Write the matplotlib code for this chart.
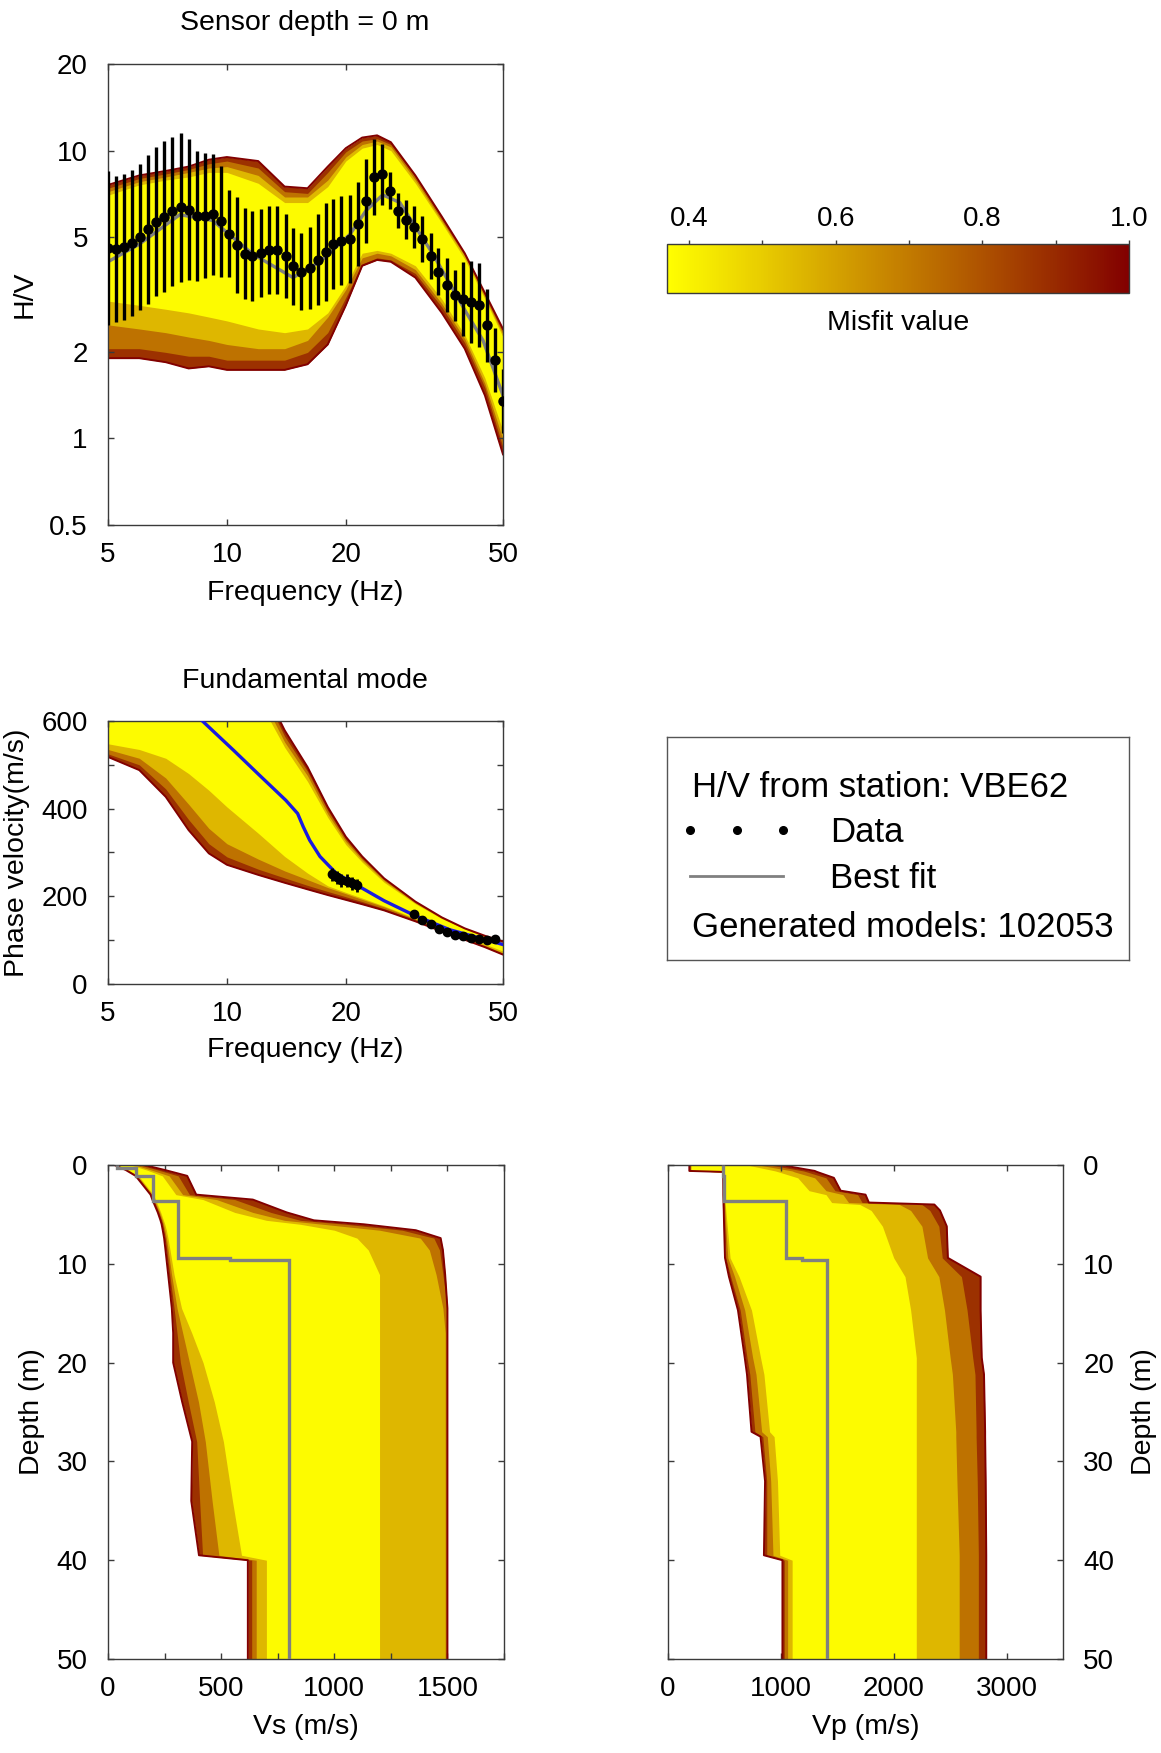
import numpy as np
import matplotlib
matplotlib.use("Agg")
import matplotlib.pyplot as plt
from matplotlib.colors import LinearSegmentedColormap, Normalize
from matplotlib.ticker import FixedLocator, NullLocator, FormatStrFormatter, MultipleLocator
import matplotlib.cm as cm

plt.rcParams["font.family"] = ["Liberation Sans", "DejaVu Sans"]

W, H = 1161, 1753

# ---------------- H/V curve ----------------
hv_freq = [5.00, 5.24, 5.49, 5.76, 6.03, 6.32, 6.63, 6.95, 7.28, 7.63,
           8.00, 8.38, 8.79, 9.21, 9.65, 10.1, 10.6, 11.1, 11.6, 12.2,
           12.8, 13.4, 14.1, 14.7, 15.4, 16.2, 17.0, 17.8, 18.6, 19.5,
           20.5, 21.5, 22.5, 23.6, 24.7, 25.9, 27.1, 28.4, 29.8, 31.2,
           32.8, 34.3, 36.0, 37.7, 39.5, 41.4, 43.4, 45.5, 47.7, 50.0]
hv_mean = [4.59, 4.55, 4.63, 4.78, 5.00, 5.32, 5.67, 5.90, 6.15, 6.35,
           6.23, 5.94, 5.94, 6.00, 5.68, 5.15, 4.69, 4.38, 4.31, 4.40,
           4.52, 4.52, 4.31, 3.96, 3.80, 3.92, 4.17, 4.45, 4.73, 4.86,
           4.93, 5.54, 6.70, 8.10, 8.27, 7.25, 6.19, 5.76, 5.42, 4.93,
           4.31, 3.80, 3.42, 3.14, 3.05, 2.98, 2.90, 2.47, 1.87, 1.35]
hv_factor = [1.85, 1.80, 1.79, 1.79, 1.79, 1.81, 1.82, 1.83, 1.81, 1.81,
             1.76, 1.68, 1.65, 1.62, 1.56, 1.42, 1.47, 1.44, 1.43, 1.42,
             1.42, 1.42, 1.40, 1.36, 1.36, 1.39, 1.44, 1.48, 1.43, 1.43,
             1.42, 1.40, 1.40, 1.36, 1.28, 1.16, 1.15, 1.17, 1.18, 1.20,
             1.20, 1.21, 1.24, 1.23, 1.34, 1.39, 1.40, 1.34, 1.29, 1.29]
hv_best_freq = [5.0, 6.0, 7.6, 9.2, 11.6, 14.7, 17.2, 20.5, 22.5, 24.8, 27.4, 33.2, 40.4, 44.5, 50.0]
hv_best = [4.11, 4.73, 5.99, 5.72, 4.38, 3.62, 4.11, 5.12, 6.19, 7.02, 6.60, 4.38, 2.73, 2.19, 1.41]

# ensemble envelopes, from worst to best misfit
hv_env_freq = [5, 6, 7, 8, 9, 10, 12, 14, 16, 18, 20, 22, 24, 26, 30, 35, 40, 45, 50]
hv_up_100 = [7.6, 8.2, 8.5, 8.8, 9.3, 9.5, 9.2, 7.5, 7.4, 8.8, 10.2, 11.1, 11.3, 10.7, 8.2, 5.9, 4.4, 3.2, 2.4]
hv_lo_100 = [1.90, 1.90, 1.84, 1.75, 1.78, 1.73, 1.73, 1.73, 1.81, 2.12, 2.90, 3.98, 4.17, 4.11, 3.62, 2.73, 2.05, 1.41, 0.88]
hv_up_080 = [7.4, 8.0, 8.3, 8.6, 9.0, 9.2, 8.7, 7.2, 7.1, 8.4, 9.9, 10.8, 11.0, 10.5, 8.1, 5.8, 4.35, 3.15, 2.35]
hv_lo_080 = [2.05, 2.05, 1.99, 1.93, 1.93, 1.87, 1.87, 1.87, 1.99, 2.33, 3.09, 4.04, 4.24, 4.17, 3.74, 2.86, 2.15, 1.50, 0.93]
hv_up_060 = [7.2, 7.8, 8.1, 8.4, 8.7, 8.8, 8.2, 6.9, 6.9, 7.9, 9.5, 10.5, 10.8, 10.3, 7.9, 5.7, 4.3, 3.1, 2.3]
hv_lo_060 = [2.48, 2.40, 2.33, 2.25, 2.19, 2.12, 2.05, 2.05, 2.19, 2.64, 3.29, 4.24, 4.40, 4.31, 3.86, 2.94, 2.22, 1.55, 0.99]
hv_up_042 = [7.0, 7.6, 7.9, 8.1, 8.4, 8.4, 7.7, 6.6, 6.6, 7.5, 9.2, 10.2, 10.5, 10.0, 7.7, 5.6, 4.2, 3.05, 2.25]
hv_lo_042 = [3.00, 2.90, 2.81, 2.73, 2.64, 2.56, 2.40, 2.33, 2.40, 2.73, 3.40, 4.40, 4.50, 4.40, 3.98, 3.05, 2.29, 1.62, 1.06]

# ---------------- dispersion ----------------
disp_freq = [18.5, 19.0, 19.5, 20.1, 20.7, 21.4, 29.8, 31.2, 32.8, 34.4, 36.1, 37.7, 39.6, 41.5, 43.5, 45.6, 47.8]
disp_vel = [250, 243, 237, 236, 230, 225, 160, 146, 137, 126, 118, 112, 110, 106, 103, 101, 102]
disp_err = [15, 15, 15, 15, 15, 15, 7, 7, 7, 6, 6, 6, 5, 5, 5, 5, 5]
disp_best_freq = [8.67, 10.4, 12.1, 14.1, 15.1, 15.6, 16.2, 17.2, 18.2, 18.9, 20.9, 25.0, 29.6, 36.6, 50.0]
disp_best = [600, 533, 476, 419, 389, 359, 328, 291, 268, 253, 230, 190, 158, 124, 90]

disp_env_freq = [5, 6, 7, 8, 9, 10, 12, 14, 16, 18, 20, 22, 25, 30, 35, 40, 45, 50]
disp_lo_100 = [518, 488, 427, 351, 298, 272, 249, 231, 216, 203, 192, 182, 168, 143, 120, 101, 84, 67]
disp_up_100 = [700, 700, 700, 700, 700, 700, 700, 579, 495, 404, 336, 291, 241, 188, 152, 127, 110, 97]
disp_lo_080 = [525, 500, 445, 375, 320, 290, 262, 242, 225, 211, 199, 188, 172, 146, 122, 103, 86, 69]
disp_up_080 = [700, 700, 700, 700, 700, 700, 690, 565, 485, 396, 330, 287, 239, 187, 151, 126, 109, 96]
disp_lo_060 = [535, 515, 470, 410, 355, 320, 285, 258, 238, 220, 206, 193, 176, 148, 124, 105, 88, 71]
disp_up_060 = [700, 700, 700, 700, 700, 700, 670, 552, 475, 388, 325, 283, 236, 185, 150, 126, 108, 95]
disp_lo_042 = [548, 535, 515, 480, 442, 404, 344, 291, 253, 224, 209, 196, 178, 150, 126, 107, 91, 75]
disp_up_042 = [700, 700, 700, 700, 700, 700, 650, 540, 462, 380, 318, 278, 232, 183, 149, 125, 107, 94]

# ---------------- best-fit layered model ----------------
layer_edges = [0, 0.3, 1.1, 3.6, 9.4, 9.6, 50]
vs_best = [40, 125, 199, 309, 538, 800]
vp_best = [486, 488, 495, 1049, 1191, 1413]

# Vs ensemble envelopes
vs_depth = [0, 0.5, 1.1, 3.0, 3.5, 4.8, 5.6, 6.0, 6.6, 7.4, 8.6, 11.1, 14.5, 17, 20, 24, 28, 34, 39.5, 40, 50]
vs_lt_100 = [28, 78, 122, 188, 196, 220, 232, 237, 242, 248, 254, 266, 282, 288, 288, 328, 372, 368, 402, 618, 618]
vs_rt_100 = [160, 250, 350, 390, 640, 790, 910, 1130, 1360, 1470, 1480, 1490, 1500, 1500, 1500, 1500, 1500, 1500, 1500, 1500, 1500]
vs_lt_080 = [31, 81, 126, 191, 200, 224, 236, 241, 246, 253, 260, 273, 292, 305, 320, 355, 392, 405, 418, 635, 635]
vs_rt_080 = [140, 220, 310, 360, 560, 720, 850, 1050, 1300, 1440, 1465, 1480, 1500, 1500, 1500, 1500, 1500, 1500, 1500, 1500, 1500]
vs_lt_060 = [34, 85, 130, 195, 204, 228, 240, 245, 251, 258, 266, 281, 305, 330, 360, 400, 430, 460, 490, 655, 655]
vs_rt_060 = [120, 190, 270, 330, 480, 640, 780, 950, 1200, 1380, 1420, 1450, 1480, 1490, 1490, 1490, 1490, 1490, 1490, 1490, 1490]
vs_lt_042 = [37, 90, 135, 200, 210, 233, 245, 251, 258, 265, 274, 292, 325, 370, 420, 470, 510, 550, 590, 700, 700]
vs_rt_042 = [100, 170, 240, 300, 420, 560, 700, 850, 1000, 1100, 1150, 1200, 1200, 1200, 1200, 1200, 1200, 1200, 1200, 1200, 1200]

# Vp ensemble envelopes
vp_depth = [0, 0.6, 0.7, 1.3, 2.6, 3.0, 3.8, 4.0, 4.6, 6.2, 9.4, 11.3, 14.7, 19.5, 21.2, 27, 27.5, 32, 39.5, 40, 50]
vp_lt_100 = [189, 189, 489, 489, 490, 490, 492, 492, 494, 497, 505, 540, 620, 680, 700, 740, 820, 860, 850, 1014, 1014]
vp_rt_100 = [1000, 1300, 1320, 1470, 1530, 1750, 1780, 2360, 2410, 2470, 2480, 2770, 2770, 2780, 2800, 2810, 2810, 2815, 2820, 2820, 2820]
vp_lt_080 = [195, 195, 492, 492, 493, 494, 496, 496, 498, 502, 512, 555, 640, 700, 725, 770, 840, 875, 875, 1030, 1030]
vp_rt_080 = [900, 1200, 1230, 1400, 1480, 1680, 1720, 2250, 2320, 2400, 2430, 2600, 2650, 2700, 2720, 2730, 2730, 2740, 2750, 2750, 2750]
vp_lt_060 = [200, 200, 495, 495, 497, 499, 501, 502, 505, 512, 530, 590, 680, 750, 780, 830, 880, 910, 930, 1060, 1060]
vp_rt_060 = [800, 1100, 1120, 1300, 1400, 1550, 1600, 2050, 2150, 2250, 2300, 2400, 2450, 2500, 2520, 2550, 2550, 2560, 2580, 2580, 2580]
vp_lt_042 = [205, 205, 498, 498, 500, 503, 506, 508, 512, 525, 550, 630, 740, 820, 850, 900, 940, 970, 990, 1100, 1100]
vp_rt_042 = [700, 950, 980, 1150, 1250, 1400, 1450, 1700, 1800, 1900, 2000, 2100, 2150, 2200, 2200, 2200, 2200, 2200, 2200, 2200, 2200]

# misfit shade of each envelope band (outer -> inner) and of the outer rim
band_misfit = [0.88, 0.72, 0.55, 0.38]
rim_misfit = 1.0

# colour scale
MIS_MIN, MIS_MAX = 0.37, 1.0
anchors = [(0.37, "#ffff00"), (0.5, "#e8cc00"), (0.6, "#d4a200"), (0.7, "#c27a00"),
           (0.8, "#ae5200"), (0.9, "#982a00"), (1.0, "#820000")]
cmap = LinearSegmentedColormap.from_list(
    "misfit", [((v - MIS_MIN) / (MIS_MAX - MIS_MIN), c) for v, c in anchors])
norm = Normalize(MIS_MIN, MIS_MAX)

SPINE = "#3a3a3a"


def px_axes(fig, left, top, right, bottom):
    return fig.add_axes([left / W, 1 - bottom / H, (right - left) / W, (bottom - top) / H])


def style(ax):
    for s in ax.spines.values():
        s.set_color(SPINE)
        s.set_linewidth(1.0)
    ax.tick_params(which="both", direction="in", top=True, right=True, color=SPINE,
                   labelcolor="black", labelsize=20, length=4, width=1)
    ax.tick_params(axis="y", pad=14.5)
    ax.tick_params(axis="x", pad=12.5)


def place_labels(ax, box, xlab_y, ylab_x):
    l, t, r, b = box
    ax.xaxis.set_label_coords(0.5, (b - xlab_y) / (b - t))
    ax.xaxis.label.set_va("center")
    ax.yaxis.set_label_coords((ylab_x - l) / (r - l), 0.5)
    ax.yaxis.label.set_va("center")
    ax.yaxis.label.set_ha("center")


def draw_bands(ax, grid, bands, vertical=True):
    for i, (m, (a, b)) in enumerate(zip(band_misfit, bands)):
        if vertical:
            ax.fill_between(grid, a, b, color=cmap(norm(m)), lw=0)
        else:
            ax.fill_betweenx(grid, a, b, color=cmap(norm(m)), lw=0)
        if i == 0:
            rim = cmap(norm(rim_misfit))
            if vertical:
                ax.plot(grid, a, color=rim, lw=1.4)
                ax.plot(grid, b, color=rim, lw=1.4)
            else:
                ax.plot(a, grid, color=rim, lw=1.4)
                ax.plot(b, grid, color=rim, lw=1.4)


fig = plt.figure(figsize=(W / 100, H / 100), dpi=100)

# ---- H/V panel ----
box1 = (108, 64, 503, 525)
ax1 = px_axes(fig, *box1)
ax1.set_xscale("log")
ax1.set_yscale("log")
draw_bands(ax1, hv_env_freq, [(hv_lo_100, hv_up_100), (hv_lo_080, hv_up_080),
                              (hv_lo_060, hv_up_060), (hv_lo_042, hv_up_042)])
ax1.plot(hv_best_freq, hv_best, color="#808080", lw=2.4, zorder=3)
mean = np.array(hv_mean)
fac = np.array(hv_factor)
ax1.errorbar(hv_freq, hv_mean, yerr=[mean - mean / fac, mean * fac - mean], fmt="o",
             color="black", ms=6.5, elinewidth=2.4, capsize=0, zorder=5)
ax1.set_xlim(5, 50)
ax1.set_ylim(0.5, 20)
ax1.xaxis.set_major_locator(FixedLocator([5, 10, 20, 50]))
ax1.xaxis.set_minor_locator(NullLocator())
ax1.yaxis.set_major_locator(FixedLocator([0.5, 1, 2, 5, 10, 20]))
ax1.yaxis.set_minor_locator(NullLocator())
ax1.xaxis.set_major_formatter(FormatStrFormatter("%g"))
ax1.yaxis.set_major_formatter(FormatStrFormatter("%g"))
style(ax1)
ax1.set_xlabel("Frequency (Hz)", fontsize=20.5)
ax1.set_ylabel("H/V", fontsize=20.5)
place_labels(ax1, box1, 593, 25)
fig.text(305 / W, 1 - 23 / H, "Sensor depth = 0 m", ha="center", va="center", fontsize=20.5)

# ---- dispersion panel ----
box2 = (108, 721, 503, 984)
ax2 = px_axes(fig, *box2)
ax2.set_xscale("log")
draw_bands(ax2, disp_env_freq, [(disp_lo_100, disp_up_100), (disp_lo_080, disp_up_080),
                                (disp_lo_060, disp_up_060), (disp_lo_042, disp_up_042)])
ax2.plot(disp_best_freq, disp_best, color="#1a1ae0", lw=2.4, zorder=3)
ax2.errorbar(disp_freq, disp_vel, yerr=disp_err, fmt="o", color="black", ms=6,
             elinewidth=2.0, capsize=0, zorder=5)
ax2.set_xlim(5, 50)
ax2.set_ylim(0, 600)
ax2.xaxis.set_major_locator(FixedLocator([5, 10, 20, 50]))
ax2.xaxis.set_minor_locator(NullLocator())
ax2.xaxis.set_major_formatter(FormatStrFormatter("%g"))
ax2.yaxis.set_major_locator(FixedLocator([0, 200, 400, 600]))
ax2.yaxis.set_minor_locator(FixedLocator([100, 300, 500]))
style(ax2)
ax2.set_xlabel("Frequency (Hz)", fontsize=20.5)
ax2.set_ylabel("Phase velocity(m/s)", fontsize=20.5)
place_labels(ax2, box2, 1050, 17)
fig.text(305 / W, 1 - 681 / H, "Fundamental mode", ha="center", va="center", fontsize=20.5)

# ---- Vs profile panel ----
box3 = (108, 1165, 504, 1659)
ax3 = px_axes(fig, *box3)
draw_bands(ax3, vs_depth, [(vs_lt_100, vs_rt_100), (vs_lt_080, vs_rt_080),
                           (vs_lt_060, vs_rt_060), (vs_lt_042, vs_rt_042)], vertical=False)
ax3.stairs(vs_best, layer_edges, orientation="horizontal", baseline=None, color="#808080", lw=2.4, zorder=3)
ax3.set_xlim(0, 1750)
ax3.set_ylim(50, 0)
ax3.xaxis.set_major_locator(FixedLocator([0, 500, 1000, 1500]))
ax3.xaxis.set_minor_locator(MultipleLocator(250))
ax3.yaxis.set_major_locator(MultipleLocator(10))
style(ax3)
ax3.set_xlabel("Vs (m/s)", fontsize=20.5)
ax3.set_ylabel("Depth (m)", fontsize=20.5)
place_labels(ax3, box3, 1727, 32)

# ---- Vp profile panel ----
box4 = (668, 1165, 1063, 1659)
ax4 = px_axes(fig, *box4)
draw_bands(ax4, vp_depth, [(vp_lt_100, vp_rt_100), (vp_lt_080, vp_rt_080),
                           (vp_lt_060, vp_rt_060), (vp_lt_042, vp_rt_042)], vertical=False)
ax4.stairs(vp_best, layer_edges, orientation="horizontal", baseline=None, color="#808080", lw=2.4, zorder=3)
ax4.set_xlim(0, 3500)
ax4.set_ylim(50, 0)
ax4.xaxis.set_major_locator(FixedLocator([0, 1000, 2000, 3000]))
ax4.yaxis.set_major_locator(MultipleLocator(10))
style(ax4)
ax4.tick_params(labelleft=False, labelright=True)
ax4.yaxis.set_label_position("right")
ax4.set_xlabel("Vp (m/s)", fontsize=20.5)
ax4.set_ylabel("Depth (m)", fontsize=20.5)
place_labels(ax4, box4, 1727, 1144)

# ---- colour bar ----
cax = px_axes(fig, 667, 244, 1129, 293)
sm = cm.ScalarMappable(norm=norm, cmap=cmap)
cb = fig.colorbar(sm, cax=cax, orientation="horizontal", ticklocation="top")
cb.set_ticks([0.4, 0.6, 0.8, 1.0])
cb.ax.xaxis.set_minor_locator(FixedLocator([0.5, 0.7, 0.9]))
cb.ax.xaxis.set_major_formatter(FormatStrFormatter("%.1f"))
cb.ax.tick_params(which="both", direction="out", length=3, width=1, color=SPINE, labelsize=20, pad=6)
cb.outline.set_edgecolor(SPINE)
cb.outline.set_linewidth(1.0)
fig.text(898 / W, 1 - 323 / H, "Misfit value", ha="center", va="center", fontsize=20.5)

# ---- legend box ----
axl = px_axes(fig, 667, 737, 1129, 960)
axl.set_xlim(667, 1129)
axl.set_ylim(960, 737)
axl.set_xticks([])
axl.set_yticks([])
for s in axl.spines.values():
    s.set_color("#555555")
    s.set_linewidth(1.0)
axl.text(692, 797, "H/V from station: VBE62", fontsize=25, va="baseline")
axl.plot([690, 737, 783], [830, 830, 830], "o", color="black", ms=5.5)
axl.text(830, 842, "Data", fontsize=25, va="baseline")
axl.plot([690, 783], [876, 876], color="#808080", lw=2)
axl.text(830, 888, "Best fit", fontsize=25, va="baseline")
axl.text(692, 937, "Generated models: 102053", fontsize=25, va="baseline")

fig.savefig("out.png", dpi=100)
